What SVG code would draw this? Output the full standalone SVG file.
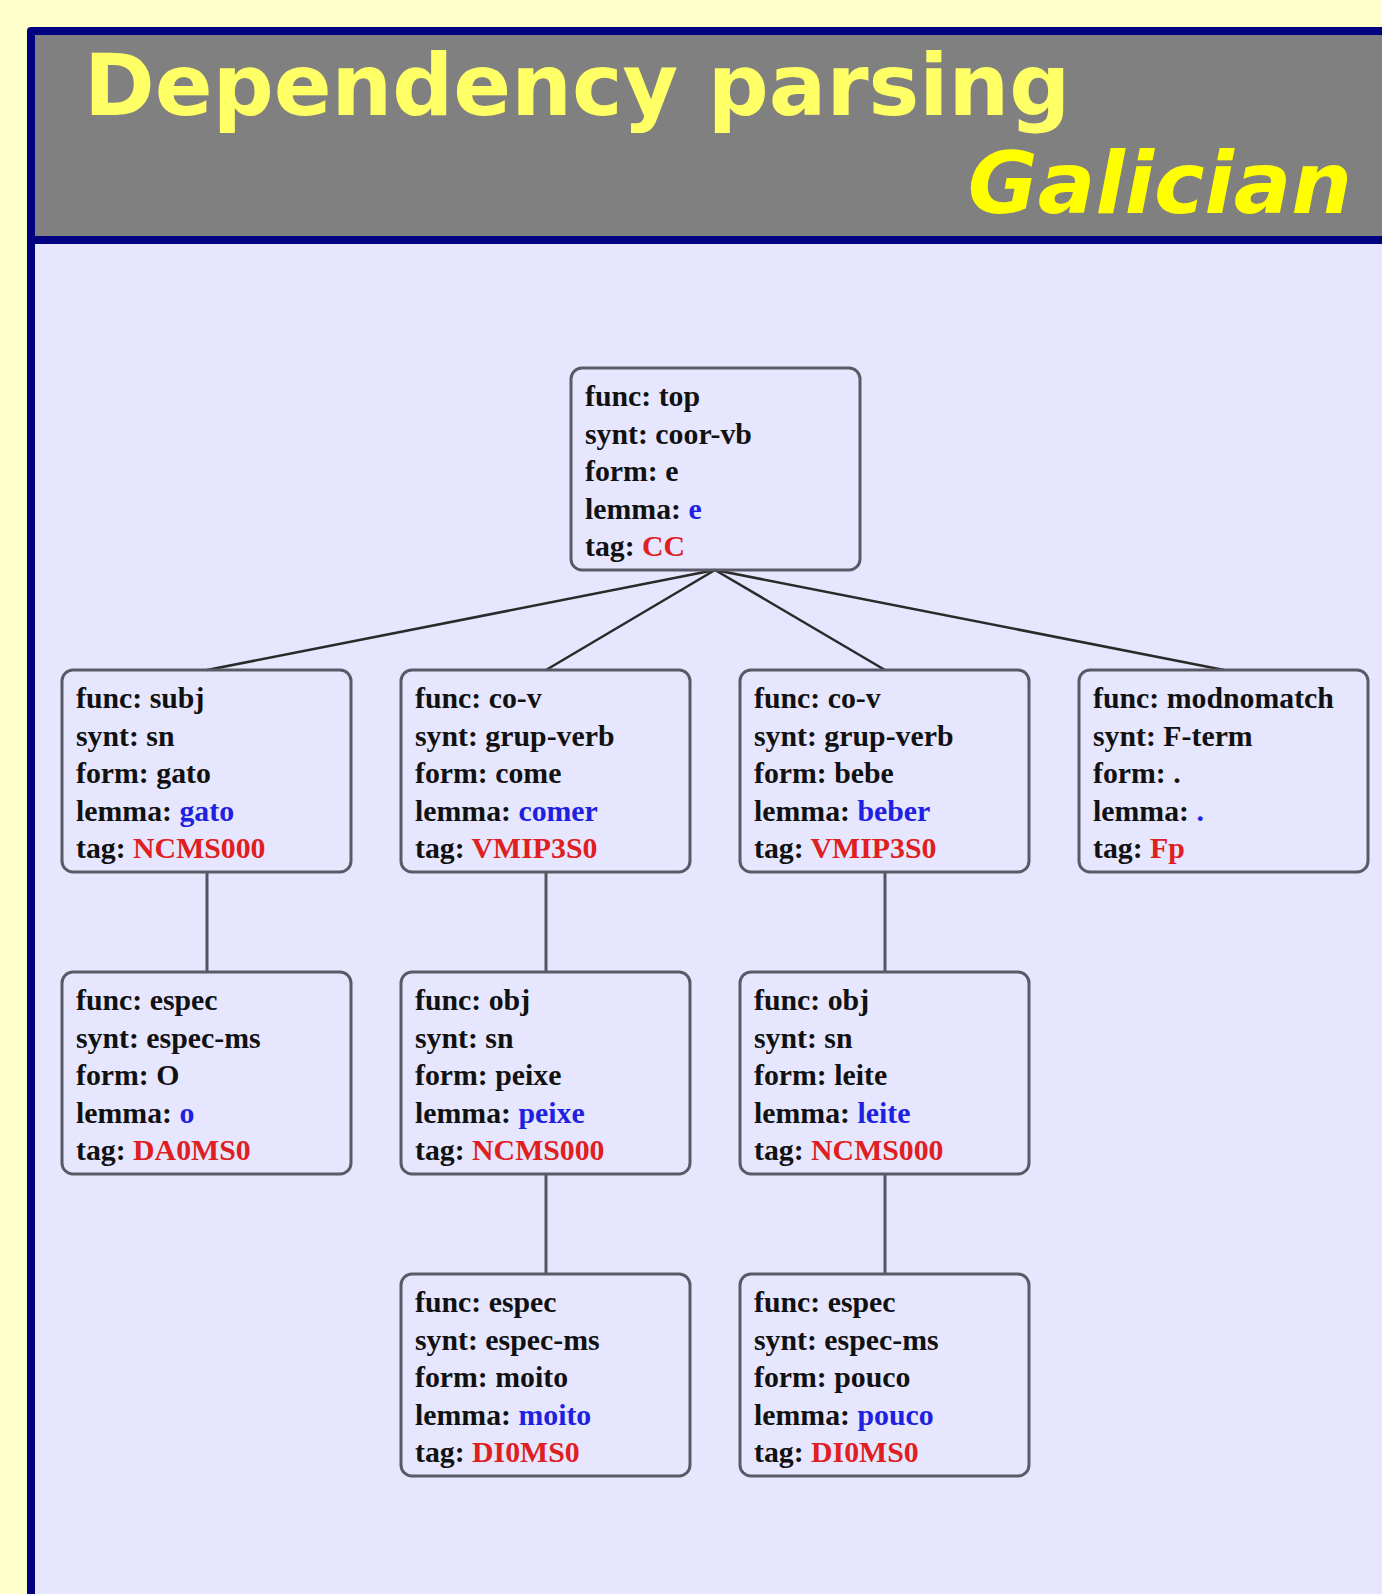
<svg xmlns="http://www.w3.org/2000/svg" width="1382" height="1594" viewBox="0 0 1382 1594">
<style>
.box{fill:none;stroke:#5a5a66;stroke-width:3}
.t{font-family:"Liberation Serif","Times New Roman",serif;font-weight:bold;font-size:29.8px;fill:#111}
.b{fill:#2020e0}
.r{fill:#e02020}
.edge{stroke:#2a2a2a;stroke-width:2.5;fill:none}
.vedge{stroke:#555560;stroke-width:3;fill:none}
.title{font-family:"DejaVu Sans",sans-serif;font-weight:bold;font-size:85.3px}
</style>
<rect x="0" y="0" width="1382" height="1594" fill="#ffffcc"/>
<rect x="27" y="27" width="1400" height="1620" rx="4" fill="#000080"/>
<rect x="35" y="35" width="1400" height="201" fill="#808080"/>
<rect x="35" y="244" width="1400" height="1400" fill="#e6e6ff"/>
<text class="title" x="84" y="115" fill="#ffff66">Dependency parsing</text>
<text class="title" x="1352" y="213" fill="#ffff00" font-style="italic" text-anchor="end">Galician</text>
<g id="connectors">
<line class="edge" x1="715" y1="570" x2="207" y2="670"/>
<line class="edge" x1="715" y1="570" x2="546" y2="670"/>
<line class="edge" x1="715" y1="570" x2="885" y2="670"/>
<line class="edge" x1="715" y1="570" x2="1224" y2="670"/>
<line class="vedge" x1="207" y1="872" x2="207" y2="972"/>
<line class="vedge" x1="546" y1="872" x2="546" y2="972"/>
<line class="vedge" x1="885" y1="872" x2="885" y2="972"/>
<line class="vedge" x1="546" y1="1174" x2="546" y2="1274"/>
<line class="vedge" x1="885" y1="1174" x2="885" y2="1274"/>
</g>
<g id="n-top">
<rect class="box" x="571" y="368" width="289" height="202" rx="11"/>
<text class="t" x="585" y="406">func: top</text>
<text class="t" x="585" y="443.5">synt: coor-vb</text>
<text class="t" x="585" y="481">form: e</text>
<text class="t" x="585" y="518.5">lemma: <tspan class="b">e</tspan></text>
<text class="t" x="585" y="556">tag: <tspan class="r">CC</tspan></text>
</g>
<g id="n-gato">
<rect class="box" x="62" y="670" width="289" height="202" rx="11"/>
<text class="t" x="76" y="708">func: subj</text>
<text class="t" x="76" y="745.5">synt: sn</text>
<text class="t" x="76" y="783">form: gato</text>
<text class="t" x="76" y="820.5">lemma: <tspan class="b">gato</tspan></text>
<text class="t" x="76" y="858">tag: <tspan class="r">NCMS000</tspan></text>
</g>
<g id="n-come">
<rect class="box" x="401" y="670" width="289" height="202" rx="11"/>
<text class="t" x="415" y="708">func: co-v</text>
<text class="t" x="415" y="745.5">synt: grup-verb</text>
<text class="t" x="415" y="783">form: come</text>
<text class="t" x="415" y="820.5">lemma: <tspan class="b">comer</tspan></text>
<text class="t" x="415" y="858">tag: <tspan class="r">VMIP3S0</tspan></text>
</g>
<g id="n-bebe">
<rect class="box" x="740" y="670" width="289" height="202" rx="11"/>
<text class="t" x="754" y="708">func: co-v</text>
<text class="t" x="754" y="745.5">synt: grup-verb</text>
<text class="t" x="754" y="783">form: bebe</text>
<text class="t" x="754" y="820.5">lemma: <tspan class="b">beber</tspan></text>
<text class="t" x="754" y="858">tag: <tspan class="r">VMIP3S0</tspan></text>
</g>
<g id="n-dot">
<rect class="box" x="1079" y="670" width="289" height="202" rx="11"/>
<text class="t" x="1093" y="708">func: modnomatch</text>
<text class="t" x="1093" y="745.5">synt: F-term</text>
<text class="t" x="1093" y="783">form: .</text>
<text class="t" x="1093" y="820.5">lemma: <tspan class="b">.</tspan></text>
<text class="t" x="1093" y="858">tag: <tspan class="r">Fp</tspan></text>
</g>
<g id="n-o">
<rect class="box" x="62" y="972" width="289" height="202" rx="11"/>
<text class="t" x="76" y="1010">func: espec</text>
<text class="t" x="76" y="1047.5">synt: espec-ms</text>
<text class="t" x="76" y="1085">form: O</text>
<text class="t" x="76" y="1122.5">lemma: <tspan class="b">o</tspan></text>
<text class="t" x="76" y="1160">tag: <tspan class="r">DA0MS0</tspan></text>
</g>
<g id="n-peixe">
<rect class="box" x="401" y="972" width="289" height="202" rx="11"/>
<text class="t" x="415" y="1010">func: obj</text>
<text class="t" x="415" y="1047.5">synt: sn</text>
<text class="t" x="415" y="1085">form: peixe</text>
<text class="t" x="415" y="1122.5">lemma: <tspan class="b">peixe</tspan></text>
<text class="t" x="415" y="1160">tag: <tspan class="r">NCMS000</tspan></text>
</g>
<g id="n-leite">
<rect class="box" x="740" y="972" width="289" height="202" rx="11"/>
<text class="t" x="754" y="1010">func: obj</text>
<text class="t" x="754" y="1047.5">synt: sn</text>
<text class="t" x="754" y="1085">form: leite</text>
<text class="t" x="754" y="1122.5">lemma: <tspan class="b">leite</tspan></text>
<text class="t" x="754" y="1160">tag: <tspan class="r">NCMS000</tspan></text>
</g>
<g id="n-moito">
<rect class="box" x="401" y="1274" width="289" height="202" rx="11"/>
<text class="t" x="415" y="1312">func: espec</text>
<text class="t" x="415" y="1349.5">synt: espec-ms</text>
<text class="t" x="415" y="1387">form: moito</text>
<text class="t" x="415" y="1424.5">lemma: <tspan class="b">moito</tspan></text>
<text class="t" x="415" y="1462">tag: <tspan class="r">DI0MS0</tspan></text>
</g>
<g id="n-pouco">
<rect class="box" x="740" y="1274" width="289" height="202" rx="11"/>
<text class="t" x="754" y="1312">func: espec</text>
<text class="t" x="754" y="1349.5">synt: espec-ms</text>
<text class="t" x="754" y="1387">form: pouco</text>
<text class="t" x="754" y="1424.5">lemma: <tspan class="b">pouco</tspan></text>
<text class="t" x="754" y="1462">tag: <tspan class="r">DI0MS0</tspan></text>
</g>
</svg>
